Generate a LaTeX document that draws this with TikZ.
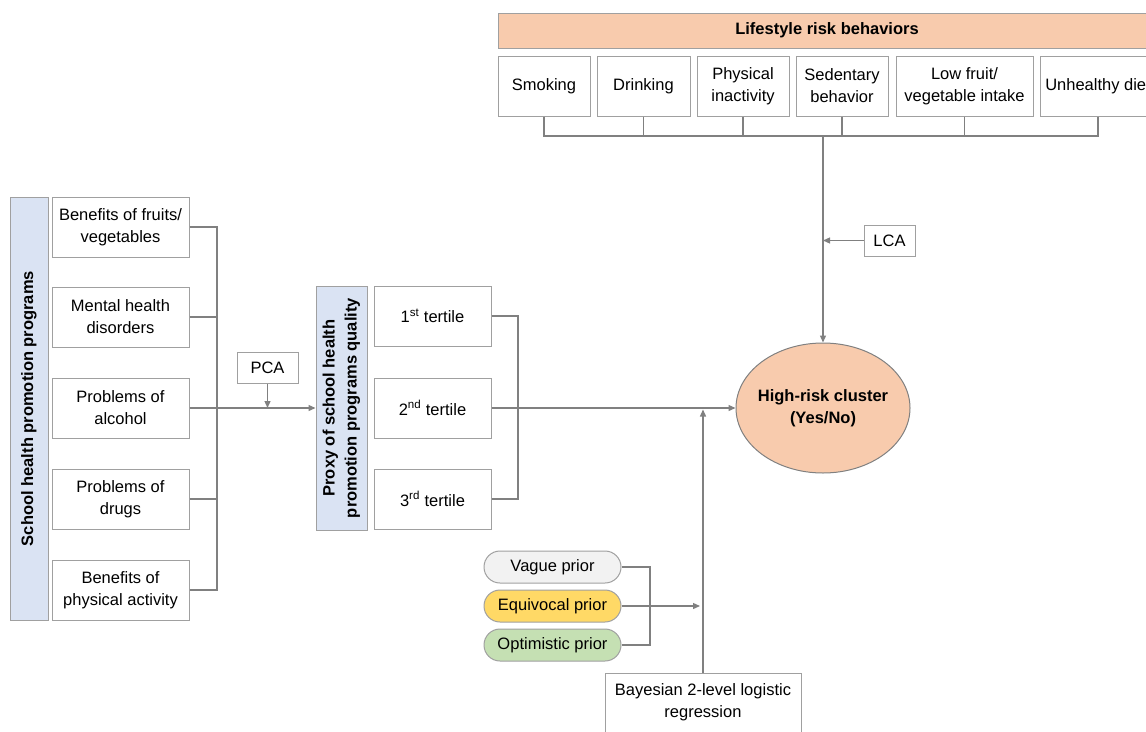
\documentclass[tikz,border=0pt]{standalone}
\usepackage{fontspec}
\setmainfont{Liberation Sans}
\usetikzlibrary{arrows.meta,shapes.geometric}
\definecolor{boxline}{HTML}{A0A0A0}
\definecolor{linkline}{HTML}{808080}
\definecolor{paleblue}{HTML}{DAE3F3}
\definecolor{peach}{HTML}{F8CBAD}
\definecolor{palegray}{HTML}{F2F2F2}
\definecolor{paleyellow}{HTML}{FFD966}
\definecolor{palegreen}{HTML}{C5E0B3}

\begin{document}
\begin{tikzpicture}[x=1pt, y=-1pt, font=\fontsize{16.5}{22}\selectfont]
  \tikzset{
    item/.style={draw=boxline, line width=1pt, fill=white, align=center, inner sep=0pt},
    band/.style={item, fill=paleblue, font=\fontsize{16.5}{22}\selectfont\bfseries},
    prior/.style={item, rounded corners=16pt, minimum width=137pt, minimum height=32pt},
    link/.style={draw=linkline, line width=1.3pt},
    arr/.style={link, -{Triangle[length=7pt,width=6pt]}}
  }
  \useasboundingbox (0,0) rectangle (1146,731);

  % school programmes
  \node[band, minimum width=423pt, minimum height=38pt, rotate=90] (programs) at (29,408.5) {School health promotion programs};
  \node[item, minimum width=137pt, minimum height=60pt] (fruits)   at (120.5,227) {Benefits of fruits/\\vegetables};
  \node[item, minimum width=137pt, minimum height=60pt] (mental)   at (120.5,317) {Mental health\\disorders};
  \node[item, minimum width=137pt, minimum height=60pt] (alcohol)  at (120.5,408) {Problems of\\alcohol};
  \node[item, minimum width=137pt, minimum height=60pt] (drugs)    at (120.5,499) {Problems of\\drugs};
  \node[item, minimum width=137pt, minimum height=60pt] (activity) at (120.5,590) {Benefits of\\physical activity};
  \node[item, minimum width=61pt, minimum height=31pt] (pca) at (267.5,367.5) {PCA};

  % proxy and tertiles
  \node[band, minimum width=244pt, minimum height=51pt, rotate=90] (proxy) at (341.5,408) {Proxy of school health\\promotion programs quality};
  \node[item, minimum width=117pt, minimum height=60pt] (first)  at (432.5,316) {1\textsuperscript{st} tertile};
  \node[item, minimum width=117pt, minimum height=60pt] (second) at (432.5,408) {2\textsuperscript{nd} tertile};
  \node[item, minimum width=117pt, minimum height=60pt] (third)  at (432.5,499) {3\textsuperscript{rd} tertile};

  % outcome
  \node[ellipse, draw=linkline, line width=1pt, fill=peach, minimum width=174pt, minimum height=130pt,
        label={[align=center, font=\fontsize{16.5}{22}\selectfont\bfseries]center:High-risk cluster\\(Yes/No)}] (risk) at (823,408) {};

  % lifestyle behaviours
  \node[item, fill=peach, minimum width=658pt, minimum height=35pt, font=\fontsize{16.5}{22}\selectfont\bfseries] (lifestyle) at (827,30.5) {Lifestyle risk behaviors};
  \node[item, minimum width=92pt,  minimum height=60pt] (smoking)   at (544,86)    {Smoking};
  \node[item, minimum width=93pt,  minimum height=60pt] (drinking)  at (643.5,86)  {Drinking};
  \node[item, minimum width=92pt,  minimum height=60pt] (inactive)  at (743,86)    {Physical\\inactivity};
  \node[item, minimum width=92pt,  minimum height=60pt] (sedentary) at (842,86)    {Sedentary\\behavior};
  \node[item, minimum width=137pt, minimum height=60pt] (lowfruit)  at (964.5,86)  {Low fruit/\\vegetable intake};
  \node[item, minimum width=116pt, minimum height=60pt] (diet)      at (1098,86)   {Unhealthy diet};
  \node[item, minimum width=51pt,  minimum height=31pt] (lca) at (889.5,240.5) {LCA};

  % priors and model
  \node[prior, fill=palegray]   (vague)   at (552.5,567) {Vague prior};
  \node[prior, fill=paleyellow] (equiv)   at (552.5,606) {Equivocal prior};
  \node[prior, fill=palegreen]  (optim)   at (552.5,645) {Optimistic prior};
  \node[item, minimum width=196pt, minimum height=67pt, text depth=12pt] (bayes) at (703,706.5) {Bayesian 2-level logistic\\regression};

  \coordinate (jl) at (217,408);
  \coordinate (jt) at (518,408);
  \coordinate (jb) at (823,136);
  \coordinate (jp) at (650,606);

  \foreach \n in {fruits,mental,drugs,activity}
    \draw[link] (\n.east) -| (jl);
  \draw[arr] (alcohol.east) -- (proxy.north);
  \draw[arr] (pca.south) -- (pca.south |- alcohol.east);

  \foreach \n in {first,third}
    \draw[link] (\n.east) -| (jt);
  \draw[arr] (second.east) -- (risk.west);

  \foreach \n in {smoking,drinking,inactive,sedentary,lowfruit,diet}
    \draw[link] (\n.south) |- (jb);
  \draw[arr] (jb) -- (risk.north);
  \draw[arr] (lca.west) -- (lca.west -| jb);

  \foreach \n in {vague,optim}
    \draw[link] (\n.east) -| (jp);
  \draw[arr, shorten >=3pt] (equiv.east) -- (equiv.east -| bayes.north);
  \draw[arr, shorten >=1.5pt] (bayes.north) -- (bayes.north |- second.east);
\end{tikzpicture}
\end{document}
